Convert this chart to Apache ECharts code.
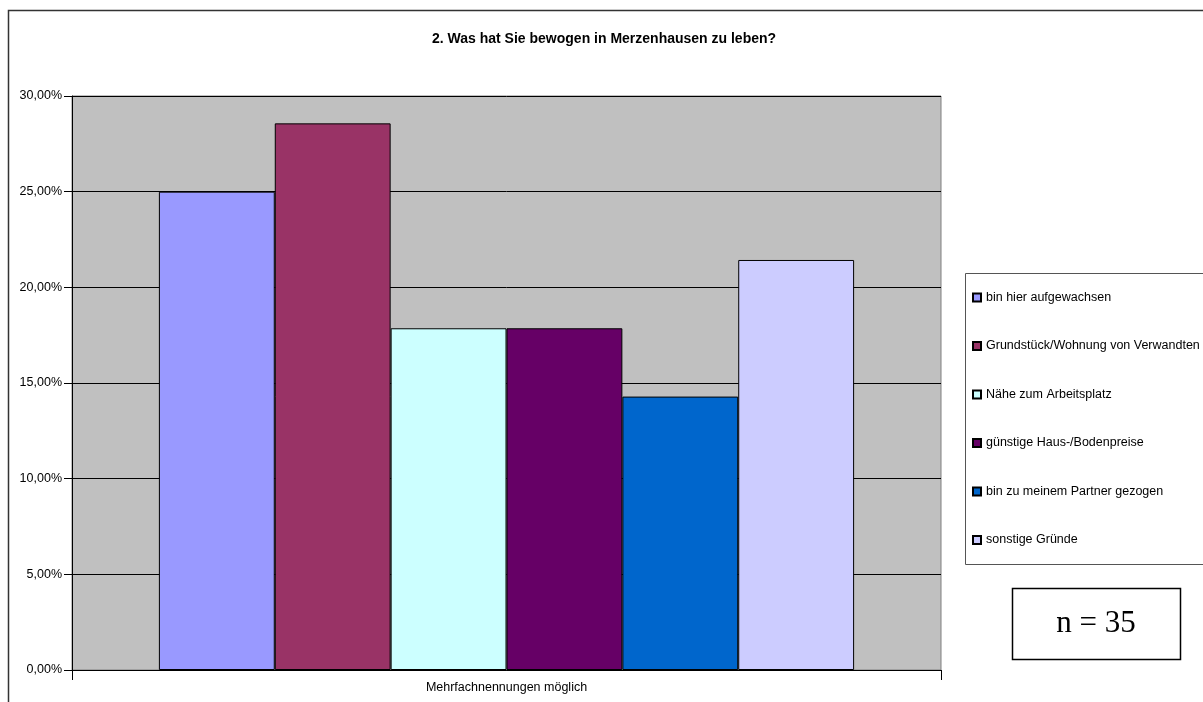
<!DOCTYPE html>
<html>
<head>
<meta charset="utf-8">
<script src="https://cdn.jsdelivr.net/npm/echarts@6/dist/echarts.min.js"></script>
<style>
html,body{margin:0;padding:0;background:#fff;}
#chart{width:1203px;height:702px;}
</style>
</head>
<body>
<div id="chart"></div>
<script>
// Daten
var categories = ['Mehrfachnennungen möglich'];
var seriesNames = ['bin hier aufgewachsen', 'Grundstück/Wohnung von Verwandten', 'Nähe zum Arbeitsplatz',
	'günstige Haus-/Bodenpreise', 'bin zu meinem Partner gezogen', 'sonstige Gründe'];
var seriesValues = [0.25, 0.2857, 0.1786, 0.1786, 0.1429, 0.2143];
var seriesColors = ['#9999FF', '#993366', '#CCFFFF', '#660066', '#0066CC', '#CCCCFF'];

var chart = echarts.init(document.getElementById('chart'));

var series = [];
for (var i = 0; i < seriesNames.length; i++) {
	series.push({
		name: seriesNames[i],
		type: 'bar',
		data: [seriesValues[i]],
		barGap: '0%',
		barCategoryGap: '20%',
		itemStyle: {
			color: seriesColors[i],
			borderColor: '#000',
			borderWidth: 1
		}
	});
}

var option = {
	animation: false,
	backgroundColor: '#fff',
	textStyle: { fontFamily: 'Liberation Sans, Arial, sans-serif' },
	title: {
		text: '2. Was hat Sie bewogen in Merzenhausen zu leben?',
		left: 427,
		top: 27,
		textStyle: { fontSize: 14, fontWeight: 'bold', color: '#000', fontFamily: 'Liberation Sans, Arial, sans-serif' }
	},
	legend: {
		orient: 'vertical',
		left: 967,
		top: 285,
		itemWidth: 8,
		itemHeight: 8,
		itemGap: 33.5,
		icon: 'rect',
		data: seriesNames,
		textStyle: { fontSize: 12.5, color: '#000', lineHeight: 15, fontFamily: 'Liberation Sans, Arial, sans-serif' }
	},
	grid: {
		left: 72,
		top: 96,
		right: 262,
		bottom: 32,
		show: true,
		backgroundColor: '#C0C0C0',
		borderColor: '#808080',
		borderWidth: 1
	},
	xAxis: {
		type: 'category',
		data: categories,
		axisLine: { lineStyle: { color: '#000', width: 1 } },
		axisTick: { show: true, length: 10, lineStyle: { color: '#000' } },
		axisLabel: { fontSize: 12.5, color: '#000', margin: 11 }
	},
	yAxis: {
		type: 'value',
		min: 0,
		max: 0.3,
		interval: 0.05,
		axisLine: { show: true, lineStyle: { color: '#000', width: 1 } },
		axisTick: { show: true, length: 8, lineStyle: { color: '#000' } },
		splitLine: { show: true, lineStyle: { color: '#000', width: 1 } },
		axisLabel: {
			fontSize: 12.5,
			color: '#000',
			margin: 10,
			formatter: function (v) {
				return (v * 100).toFixed(2).replace('.', ',') + '%';
			}
		}
	},
	graphic: [
		{
			type: 'rect',
			shape: { x: 8.5, y: 10.5, width: 1300, height: 800 },
			style: { fill: 'none', stroke: '#333', lineWidth: 1.5 },
			silent: true
		},
		{
			type: 'rect',
			shape: { x: 965.5, y: 273.5, width: 300, height: 291 },
			style: { fill: 'none', stroke: '#555', lineWidth: 1 },
			silent: true
		},
		{
			type: 'rect',
			shape: { x: 1012.5, y: 588.5, width: 168, height: 71 },
			style: { fill: '#fff', stroke: '#000', lineWidth: 1.5 },
			silent: true
		},
		{
			type: 'text',
			x: 1096,
			y: 624,
			style: {
				text: 'n = 35',
				fontSize: 31,
				fontFamily: 'Liberation Serif, Times New Roman, serif',
				fill: '#000',
				align: 'center',
				verticalAlign: 'middle'
			},
			silent: true
		}
	],
	series: series
};

chart.setOption(option);

window.onresize = function () {
	chart.resize();
};
</script>
</body>
</html>
